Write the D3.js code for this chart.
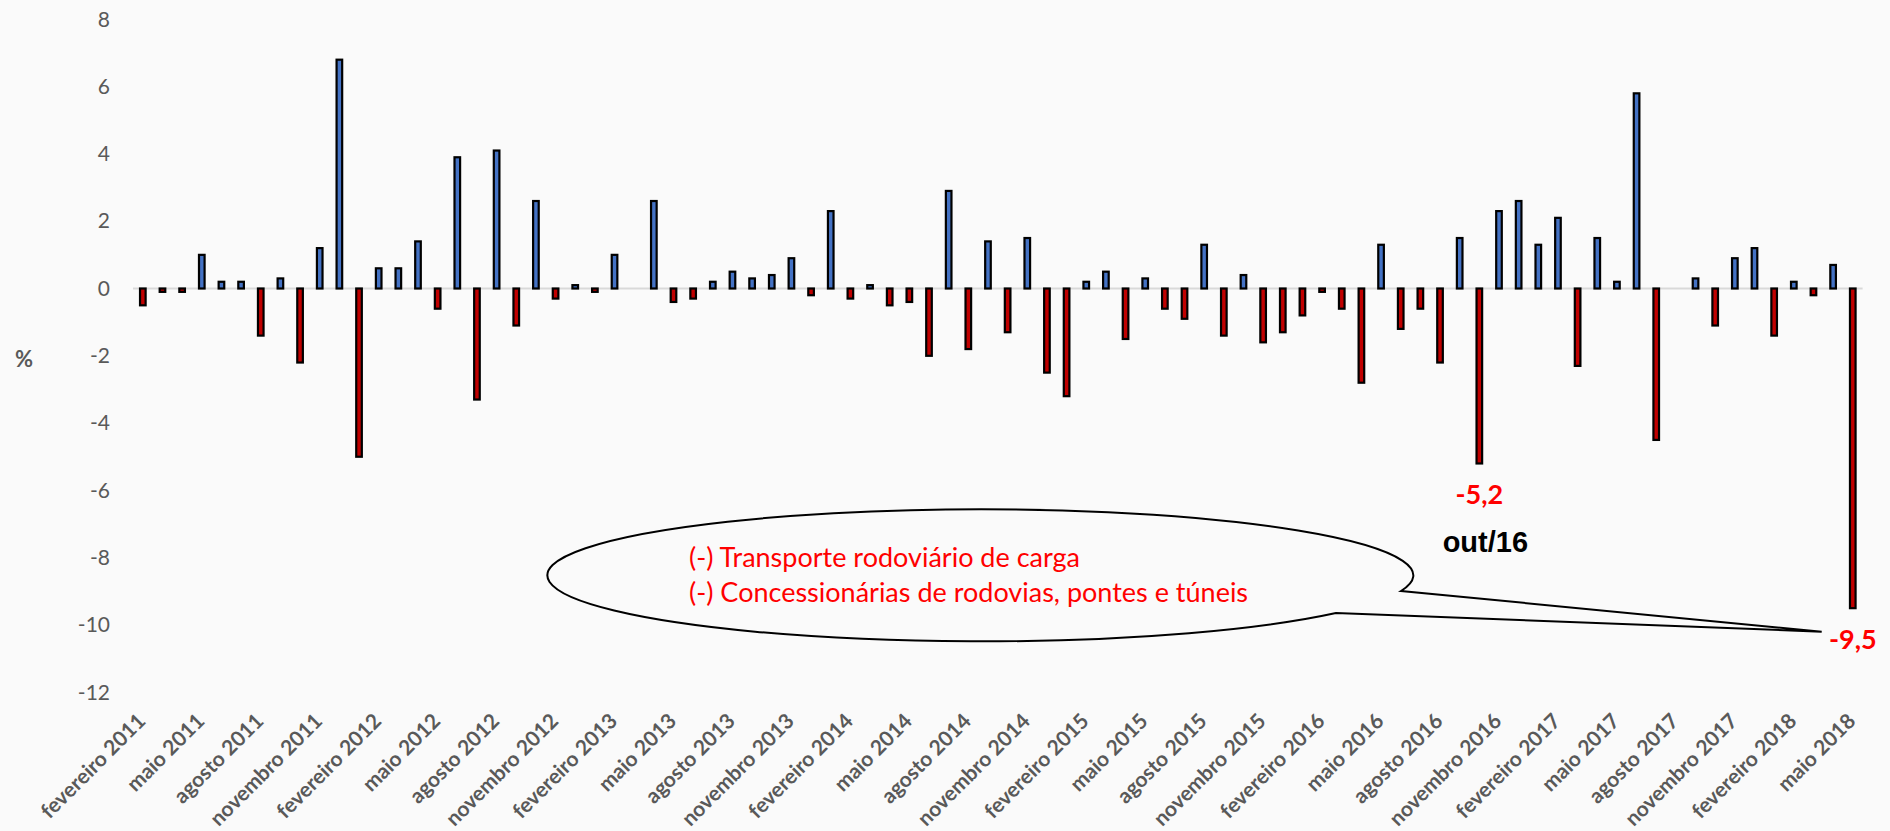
<!DOCTYPE html>
<html>
<head>
<meta charset="utf-8">
<script src="https://cdn.jsdelivr.net/npm/d3@7"></script>
<style>
  html, body { margin: 0; padding: 0; background: #fafafa; }
  svg { display: block; }
</style>
</head>
<body>
<script>
/* Month names and the period covered (fevereiro 2011 .. maio 2018) */
var monthNames = ["janeiro", "fevereiro", "março", "abril", "maio", "junho",
                  "julho", "agosto", "setembro", "outubro", "novembro", "dezembro"];
var startYear = 2011, startMonth = 1, monthCount = 88;

/* Monthly variation (%), fev/2011 .. mai/2018 */
var values = [
  -0.5, -0.1, -0.1,  1.0,  0.2,  0.2, -1.4,  0.3, -2.2,  1.2,  6.8, -5.0,
   0.6,  0.6,  1.4, -0.6,  3.9, -3.3,  4.1, -1.1,  2.6, -0.3,  0.1, -0.1,
   1.0,  0.0,  2.6, -0.4, -0.3,  0.2,  0.5,  0.3,  0.4,  0.9, -0.2,  2.3,
  -0.3,  0.1, -0.5, -0.4, -2.0,  2.9, -1.8,  1.4, -1.3,  1.5, -2.5, -3.2,
   0.2,  0.5, -1.5,  0.3, -0.6, -0.9,  1.3, -1.4,  0.4, -1.6, -1.3, -0.8,
  -0.1, -0.6, -2.8,  1.3, -1.2, -0.6, -2.2,  1.5, -5.2,  2.3,  2.6,  1.3,
   2.1, -2.3,  1.5,  0.2,  5.8, -4.5,  0.0,  0.3, -1.1,  0.9,  1.2, -1.4,
   0.2, -0.2,  0.7, -9.5
];

var yTicks = [-12, -10, -8, -6, -4, -2, 0, 2, 4, 6, 8];

var calloutLines = ["(-) Transporte rodoviário de carga",
                    "(-) Concessionárias de rodovias, pontes e túneis"];

/* Highlighted bars: index in the series, value label, extra label */
var highlights = [
  {index: 68, label: "-5,2", note: "out/16"},
  {index: 87, label: "-9,5", note: null}
];

/* Build category labels from the month names */
var categories = [];
for (var i = 0; i < monthCount; i++) {
  var m = (startMonth + i) % 12, yr = startYear + Math.floor((startMonth + i) / 12);
  categories.push(monthNames[m] + " " + yr);
}
var data = categories.map(function(c, i) { return {cat: c, value: values[i]}; });

var W = 1890, H = 831;

var svg = d3.select("body").append("svg")
    .attr("width", W)
    .attr("height", H);

svg.append("rect").attr("width", W).attr("height", H).attr("fill", "#fafafa");

/* Scales */
var x = d3.scaleBand().domain(categories).range([133, 1862.6])
    .paddingInner(0.715).paddingOuter(0.3575);
var y = d3.scaleLinear().domain([-12, 8]).range([692.3, 19.3]);

/* Y axis: labels only */
var yAxis = svg.append("g")
    .attr("transform", "translate(110,0)")
    .call(d3.axisLeft(y).tickValues(yTicks).tickSize(0).tickPadding(0)
      .tickFormat(function(d) { return String(d); }));
yAxis.select(".domain").remove();
yAxis.selectAll("text")
    .style("font", "21px Lato")
    .attr("fill", "#595959");

svg.append("text")
    .attr("x", 24)
    .attr("y", 367)
    .attr("text-anchor", "middle")
    .style("font", "bold 22px Lato")
    .attr("fill", "#595959")
    .text("%");

/* X axis: every third month, rotated */
var xAxis = svg.append("g")
    .attr("transform", "translate(0," + y(-12) + ")")
    .call(d3.axisBottom(x)
      .tickValues(categories.filter(function(d, i) { return i % 3 === 0; }))
      .tickSize(0));
xAxis.select(".domain").remove();
xAxis.selectAll("text")
    .attr("x", 0).attr("y", 0).attr("dy", 0)
    .attr("transform", "translate(4,30) rotate(-45)")
    .attr("text-anchor", "end")
    .style("font", "bold 21px Lato")
    .attr("fill", "#595959");

/* Zero line */
svg.append("line")
    .attr("x1", x.range()[0]).attr("x2", x.range()[1])
    .attr("y1", y(0)).attr("y2", y(0))
    .attr("stroke", "#d9d9d9")
    .attr("stroke-width", 2);

/* Bars */
svg.selectAll(".bar")
    .data(data.filter(function(d) { return d.value !== 0; }))
    .enter().append("rect")
    .attr("class", "bar")
    .attr("x", function(d) { return x(d.cat); })
    .attr("width", x.bandwidth())
    .attr("y", function(d) { return y(Math.max(0, d.value)); })
    .attr("height", function(d) { return Math.abs(y(d.value) - y(0)); })
    .attr("fill", function(d) { return d.value >= 0 ? "#4472c4" : "#c00000"; })
    .attr("stroke", "#000")
    .attr("stroke-width", 2.2);

/* Value labels for highlighted bars */
highlights.forEach(function(h) {
  var d = data[h.index];
  var cx = x(d.cat) + x.bandwidth() / 2;
  svg.append("text")
      .attr("x", cx)
      .attr("y", y(d.value) + 41)
      .attr("text-anchor", "middle")
      .style("font", "bold 27px Lato")
      .attr("fill", "#ff0000")
      .text(h.label);
  if (h.note) {
    svg.append("text")
        .attr("x", cx + 6)
        .attr("y", y(d.value) + 89)
        .attr("text-anchor", "middle")
        .style("font", "bold 29px 'Liberation Sans'")
        .attr("fill", "#000")
        .text(h.note);
  }
});

/* Ellipse callout pointing at the last bar */
var rx = 433, ry = 66;
var tip = [1821.7, 631.7];
var a = [1401, 591], b = [1336, 613];
svg.append("path")
    .attr("d", "M" + a + " A" + rx + "," + ry + " 0 1 0 " + b + " L" + tip + " Z")
    .attr("fill", "none")
    .attr("stroke", "#000")
    .attr("stroke-width", 2);

svg.selectAll(".callout")
    .data(calloutLines)
    .enter().append("text")
    .attr("class", "callout")
    .attr("x", 689)
    .attr("y", function(d, i) { return 567 + i * 35; })
    .style("font", "27px Lato")
    .attr("fill", "#ff0000")
    .text(function(d) { return d; });
</script>
</body>
</html>
